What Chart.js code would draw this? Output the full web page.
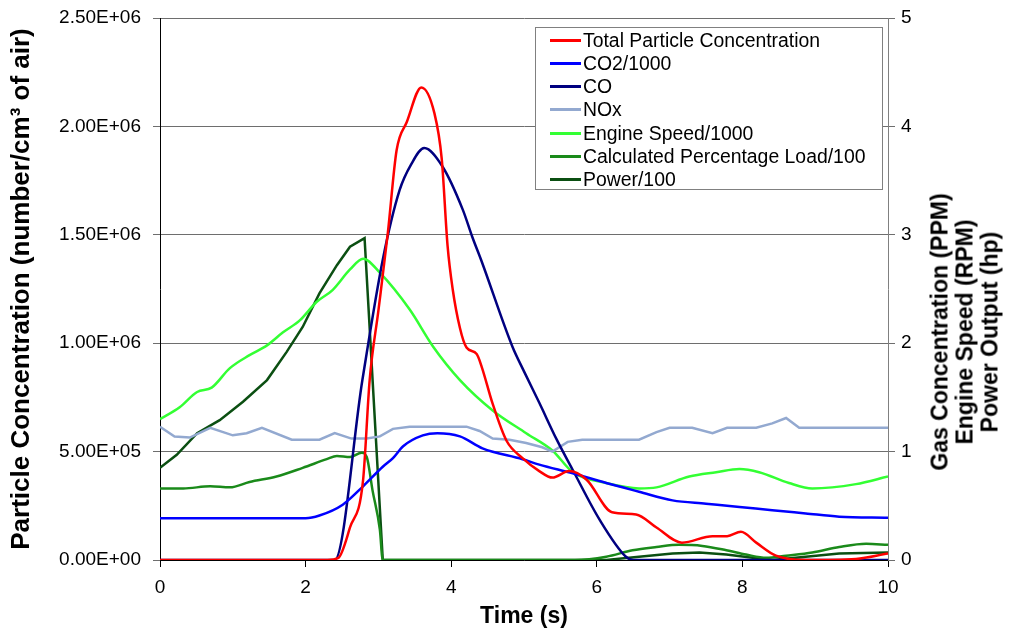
<!DOCTYPE html>
<html><head><meta charset="utf-8">
<script src="https://cdn.jsdelivr.net/npm/chart.js@4.4.0/dist/chart.umd.min.js"></script>
<style>
html,body{margin:0;padding:0;background:#fff;}
#wrap{position:relative;width:1009px;height:632px;font-family:"Liberation Sans",Arial,sans-serif;overflow:hidden;}
#c{position:absolute;left:0;top:0;}
#legend{position:absolute;left:535px;top:27px;width:346px;height:161px;border:1px solid #808080;background:#fff;}
.row{position:absolute;left:0;height:23px;line-height:23px;font-size:19.4px;white-space:nowrap;color:#000;}
.row .l{position:absolute;left:14px;top:10px;width:31px;height:3px;}
.row .t{position:absolute;left:47px;top:0;}
#rtitle{position:absolute;left:965px;top:332px;transform:translate(-50%,-50%) rotate(-90deg);font-weight:bold;font-size:23px;line-height:25px;text-align:center;white-space:nowrap;color:#000;}
</style>
</head><body>
<div id="wrap">
<canvas id="c" width="1009" height="632"></canvas>
<div id="legend"></div>
<div id="rtitle">Gas Concentration (PPM)<br>Engine Speed (RPM)<br>Power Output (hp)</div>
</div>
<script>
// ---------- data ----------
const seriesNames = ['Total Particle Concentration','CO2/1000','CO','NOx','Engine Speed/1000','Calculated Percentage Load/100','Power/100'];
const seriesColors = ['#FF0000','#0000FF','#000080','#93A9D0','#33FF33','#1A8A1A','#0B4F12'];

const xTickLabels = ['0','2','4','6','8','10'];
const leftTickLabels = ['0.00E+00','5.00E+05','1.00E+06','1.50E+06','2.00E+06','2.50E+06'];
const rightTickLabels = ['0','1','2','3','4','5'];

const particleT = [0,1,2,2.3,2.45,2.61,2.79,2.88,3.0,3.13,3.25,3.39,3.59,3.77,3.87,3.95,4.02,4.12,4.21,4.35,4.42,4.57,4.76,4.98,5.21,5.39,5.62,5.86,6.21,6.54,6.82,7.17,7.59,7.79,7.98,8.19,8.46,8.87,9.56,10];
const particleV = [0,0,0,0,10000,150000,370000,830000,1150000,1510000,1890000,2020000,2180000,2060000,1850000,1450000,1250000,1070000,980000,950000,890000,720000,550000,470000,410000,380000,410000,370000,220000,210000,150000,80000,110000,110000,130000,80000,20000,0,5000,30000];

const co2T = [0,1,2,2.19,2.51,2.79,3.06,3.2,3.34,3.61,3.81,4.12,4.43,4.98,5.21,5.67,6.13,6.58,7.04,7.5,7.96,8.41,8.87,9.33,10];
const co2V = [0.385,0.385,0.385,0.41,0.51,0.68,0.86,0.94,1.05,1.15,1.17,1.14,1.03,0.93,0.88,0.80,0.71,0.63,0.55,0.52,0.49,0.46,0.43,0.40,0.39];

const coT = [0,1,2,2.4,2.78,3.06,3.29,3.45,3.63,3.88,4.16,4.29,4.41,4.84,5.0,5.21,5.45,5.67,6.04,6.4,6.5,8,10];
const coV = [0,0,0,0,1.66,2.77,3.41,3.65,3.80,3.63,3.23,2.98,2.77,1.97,1.74,1.45,1.11,0.83,0.37,0.03,0,0,0];

const noxT = [0,0.2,0.41,0.69,1.0,1.19,1.4,1.81,2.19,2.4,2.63,2.84,3.02,3.2,3.43,4.21,4.39,4.57,4.8,5.03,5.25,5.39,5.6,5.8,6.58,6.82,7.0,7.31,7.59,7.79,8.19,8.41,8.6,8.78,10];
const noxV = [1.23,1.14,1.13,1.22,1.15,1.17,1.22,1.11,1.11,1.17,1.12,1.12,1.14,1.21,1.23,1.23,1.19,1.12,1.11,1.08,1.04,1.0,1.09,1.11,1.11,1.18,1.22,1.22,1.17,1.22,1.22,1.26,1.31,1.22,1.22];

const speedT = [0,0.27,0.51,0.71,0.96,1.23,1.47,1.69,1.92,2.15,2.37,2.61,2.79,3.02,3.43,3.75,4.12,4.57,5.03,5.39,5.67,6.13,6.58,6.82,7.27,7.64,7.96,8.23,8.64,8.96,9.56,10];
const speedV = [1.30,1.41,1.55,1.59,1.77,1.89,1.98,2.10,2.21,2.38,2.49,2.68,2.78,2.65,2.31,1.97,1.66,1.38,1.17,1.01,0.81,0.71,0.66,0.67,0.77,0.81,0.84,0.81,0.71,0.66,0.70,0.77];

const loadT = [0,0.32,0.69,0.96,1.23,1.6,1.96,2.29,2.43,2.61,2.77,2.84,2.92,3.02,3.06,5.7,6.13,6.49,6.82,7.13,7.45,7.78,8.05,8.33,8.6,8.96,9.33,9.7,10];
const loadV = [0.66,0.66,0.68,0.67,0.72,0.77,0.85,0.93,0.96,0.95,0.99,0.95,0.64,0.28,0,0,0.03,0.09,0.12,0.14,0.13,0.09,0.05,0.02,0.04,0.07,0.12,0.15,0.14];

const powerT = [0,0.23,0.51,0.82,1.14,1.47,1.74,1.96,2.19,2.43,2.61,2.81,3.06,5.8,6.13,6.58,7.04,7.41,7.78,8.14,8.41,8.87,9.33,10];
const powerV = [0.85,0.97,1.17,1.29,1.46,1.66,1.92,2.15,2.46,2.72,2.89,2.97,0,0,0,0.03,0.06,0.07,0.05,0.02,0,0.03,0.06,0.07];

// ---------- build ----------
const pts = (t, v) => t.map((x, i) => ({x: x, y: v[i]}));
const smooth = {cubicInterpolationMode: 'monotone', tension: 0.4};
const straight = {tension: 0};
const seriesData = [
  [pts(particleT, particleV), 'y', smooth],
  [pts(co2T, co2V), 'y2', smooth],
  [pts(coT, coV), 'y2', smooth],
  [pts(noxT, noxV), 'y2', straight],
  [pts(speedT, speedV), 'y2', smooth],
  [pts(loadT, loadV), 'y2', smooth],
  [pts(powerT, powerV), 'y2', straight]
];
const datasets = seriesData.map((s, i) => Object.assign({
  label: seriesNames[i], data: s[0], yAxisID: s[1],
  borderColor: seriesColors[i], backgroundColor: seriesColors[i],
  borderWidth: 2.5, pointRadius: 0, fill: false
}, s[2]));

// legend (HTML text)
const lg = document.getElementById('legend');
seriesNames.forEach((n, i) => {
  const r = document.createElement('div');
  r.className = 'row';
  r.style.top = (0.5 + i * 23.3) + 'px';
  r.innerHTML = '<span class="l" style="background:' + seriesColors[i] + '"></span><span class="t"></span>';
  r.querySelector('.t').textContent = n;
  lg.appendChild(r);
});

const FONT = '"Liberation Sans", Arial, sans-serif';
Chart.defaults.font.family = FONT;
Chart.defaults.color = '#000';

const fitV = w => s => { s.width = w; s.paddingTop = 0; s.paddingBottom = 0; };

new Chart(document.getElementById('c'), {
  type: 'line',
  data: {datasets: datasets},
  options: {
    responsive: false,
    animation: false,
    layout: {padding: {top: 18, left: 0, right: 0, bottom: 0}},
    plugins: {legend: {display: false}, tooltip: {enabled: false}},
    scales: {
      x: {
        type: 'linear', min: 0, max: 10,
        ticks: {stepSize: 2, font: {size: 19}, color: '#000', padding: 9, maxRotation: 0,
                callback: (v, i) => xTickLabels[i]},
        grid: {drawOnChartArea: false, drawTicks: true, tickLength: 7, color: '#000'},
        border: {color: '#000', width: 1},
        title: {display: true, text: 'Time (s)', font: {size: 23, weight: 'bold'}, color: '#000', padding: {top: 0, bottom: 2}},
        afterFit: s => { s.height = 72; s.paddingLeft = 0; s.paddingRight = 0; }
      },
      y: {
        position: 'left', min: 0, max: 2500000,
        ticks: {stepSize: 500000, font: {size: 19}, color: '#000', padding: 12,
                callback: (v, i) => leftTickLabels[i]},
        grid: {color: '#6e6e6e', tickLength: 7, lineWidth: 1},
        border: {color: '#000', width: 1},
        title: {display: true, text: 'Particle Concentration (number/cm³ of air)', font: {size: 26, weight: 'bold'}, color: '#000', padding: {top: 6, bottom: 0}},
        afterFit: fitV(160)
      },
      y2: {
        position: 'right', min: 0, max: 5,
        ticks: {stepSize: 1, font: {size: 19}, color: '#000', padding: 6,
                callback: (v, i) => rightTickLabels[i]},
        grid: {drawOnChartArea: false, tickLength: 7, color: '#6e6e6e'},
        border: {color: '#808080', width: 1},
        afterFit: fitV(121)
      }
    }
  }
});
</script>
</body></html>
